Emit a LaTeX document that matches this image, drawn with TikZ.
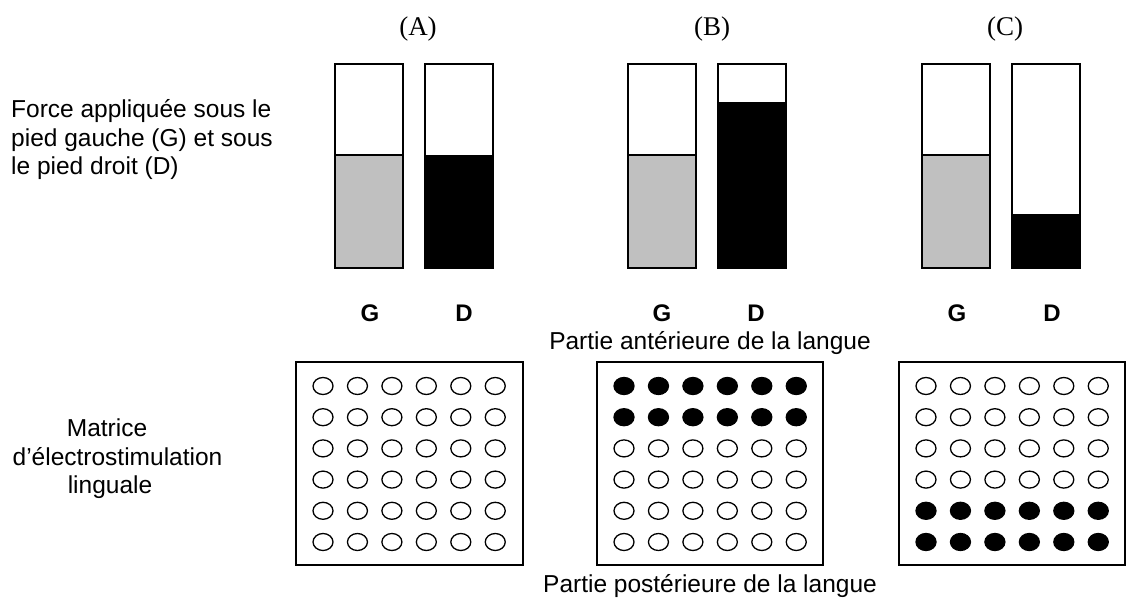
\documentclass[tikz,border=0pt]{standalone}
\usepackage{fontspec}
\setmainfont{Liberation Sans}
\newfontfamily\panelfont{Liberation Serif}
\definecolor{barGrey}{RGB}{192,192,192}
\begin{document}
\begin{tikzpicture}[x=1pt,y=-1pt,
  outline/.style={draw=black,line width=1.5pt},
  greyfill/.style={fill=barGrey},
  blackfill/.style={fill=black},
  mbox/.style={draw=black,line width=1.5pt},
  dotopen/.style={draw=black,line width=1.3pt,fill=white},
  dotfull/.style={draw=black,line width=1.3pt,fill=black},
  txt/.style={font=\fontsize{24.5}{28.5}\selectfont,inner sep=0pt},
  gd/.style={font=\fontsize{24}{28}\selectfont\bfseries,inner sep=0pt,anchor=base},
  panel/.style={font=\panelfont\fontsize{27}{30}\selectfont,inner sep=0pt,anchor=base}]
\useasboundingbox (0,0) rectangle (1127,607);
\fill[white] (0,0) rectangle (1127,607);

% Left labels
\node[txt,anchor=base west] (f1) at (11,118) {Force appliquée sous le};
\node[txt,anchor=base west] (f2) at (11,146.5) {pied gauche (G) et sous};
\node[txt,anchor=base west] (f3) at (11,175) {le pied droit (D)};
\node[txt,anchor=base] (m1) at (107,436.5) {Matrice};
\node[txt,anchor=base] (m2) at (117.5,465) {d’électrostimulation};
\node[txt,anchor=base] (m3) at (110,493.5) {linguale};

% Panel titles
\node[panel] (pA) at (418,36) {(A)};
\node[panel] (pB) at (712,36) {(B)};
\node[panel] (pC) at (1005,36) {(C)};

% Bars (A)
\fill[greyfill] (335,155) rectangle (403,268);
\draw[outline] (335,64) rectangle (403,268);
\draw[outline] (335,155) -- (403,155);
\fill[blackfill] (425,155) rectangle (493,268);
\draw[outline] (425,64) rectangle (493,268);
% Bars (B)
\fill[greyfill] (628,155) rectangle (696,268);
\draw[outline] (628,64) rectangle (696,268);
\draw[outline] (628,155) -- (696,155);
\fill[blackfill] (718,102) rectangle (786,268);
\draw[outline] (718,64) rectangle (786,268);
% Bars (C)
\fill[greyfill] (922,155) rectangle (990,268);
\draw[outline] (922,64) rectangle (990,268);
\draw[outline] (922,155) -- (990,155);
\fill[blackfill] (1012,214) rectangle (1080,268);
\draw[outline] (1012,64) rectangle (1080,268);

% G / D labels
\node[gd] (gA) at (370,321) {G};
\node[gd] (dA) at (464,321) {D};
\node[gd] (gB) at (662,321) {G};
\node[gd] (dB) at (756,321) {D};
\node[gd] (gC) at (957,321) {G};
\node[gd] (dC) at (1052,321) {D};

% Tongue labels
\node[txt,anchor=base] (ant) at (710,349) {Partie antérieure de la langue};
\node[txt,anchor=base] (post) at (710,592) {Partie postérieure de la langue};

% Matrices
\draw[mbox] (296,362) rectangle (523,565);
\draw[mbox] (597,362) rectangle (823,565);
\draw[mbox] (899,362) rectangle (1125,565);
\foreach \i in {0,...,5}{
  \foreach \j in {0,...,5}{
    \draw[dotopen] ({323+34.45*\i},{386+31.2*\j}) ellipse (10pt and 8.5pt);
  }
}
\foreach \i in {0,...,5}{
  \foreach \j in {0,...,5}{
    \ifnum\j<2
      \draw[dotfull] ({624+34.45*\i},{386+31.2*\j}) ellipse (10pt and 8.5pt);
    \else
      \draw[dotopen] ({624+34.45*\i},{386+31.2*\j}) ellipse (10pt and 8.5pt);
    \fi
  }
}
\foreach \i in {0,...,5}{
  \foreach \j in {0,...,5}{
    \ifnum\j>3
      \draw[dotfull] ({926+34.45*\i},{386+31.2*\j}) ellipse (10pt and 8.5pt);
    \else
      \draw[dotopen] ({926+34.45*\i},{386+31.2*\j}) ellipse (10pt and 8.5pt);
    \fi
  }
}
\end{tikzpicture}
\end{document}
